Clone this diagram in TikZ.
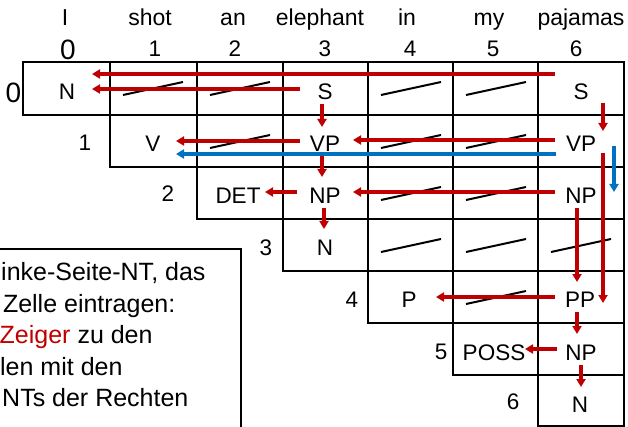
\documentclass[tikz,border=0pt]{standalone}
\usepackage{fontspec}
\setmainfont{Liberation Sans}
\usetikzlibrary{arrows.meta,calc}
\definecolor{ptrred}{RGB}{192,0,0}
\definecolor{ptrblue}{RGB}{0,112,192}
\tikzset{
    cellline/.style={line width=2.6pt},
    nolink/.style={line width=2pt},
    ptr/.style={line width=3.1pt, ptrred, -{Triangle[length=8pt,width=9pt]}},
    bptr/.style={ptr, ptrblue},
    cat/.style={anchor=base, inner sep=0pt, font=\fontsize{22.5}{26}\selectfont},
    hdr/.style={anchor=base, inner sep=0pt, font=\fontsize{23}{27}\selectfont},
    idx/.style={anchor=base, inner sep=0pt, font=\fontsize{22.5}{26}\selectfont},
    bigidx/.style={anchor=base, inner sep=0pt, font=\fontsize{28}{32}\selectfont},
    note/.style={anchor=base west, inner sep=0pt, font=\fontsize{25}{30}\selectfont},
    notebox/.style={line width=2.2pt}
}
\begin{document}
\begin{tikzpicture}[x=1pt,y=-1pt]
    \useasboundingbox (0,0) rectangle (628,427);
    \clip (0,0) rectangle (628,427);
    % chart
    \foreach \xa/\ya/\yb in {23/62/115,110/115/167,197/167/219,283/219/271,368/271/323,453/323/375,538/375/426}{
        \draw[cellline] (\xa,\ya) rectangle (624,\yb);
    }
    \foreach \x/\yb in {110/167,197/219,283/271,368/323,453/375,538/426}{
        \draw[cellline] (\x,62) -- (\x,\yb);
    }
    \foreach \x/\y in {110/62,197/62,368/62,453/62,197/115,368/115,453/115,368/167,453/167,368/219,453/219,538/219,453/271}{
        \draw[nolink] (\x+13,\y+33) -- (\x+73,\y+20);
    }
    % sentence and positions
    \foreach \n/\x/\w in {w0/65/I,w1/150/shot,w2/233/an,w3/320/elephant,w4/407/in,w5/489/my,w6/581/pajamas}{
        \node[hdr] (\n) at (\x,26) {\w};
    }
    \node[bigidx] (p0) at (68,60) {0};
    \foreach \n/\x/\d in {p1/155/1,p2/235/2,p3/325/3,p4/410/4,p5/493/5,p6/576/6}{
        \node[idx] (\n) at (\x,57) {\d};
    }
    \node[bigidx] (r0) at (13.5,103) {0};
    \foreach \n/\x/\y/\d in {r1/85/151/1,r2/168/202/2,r3/266/255/3,r4/352/307/4,r5/441/359/5,r6/513/409/6}{
        \node[idx] (\n) at (\x,\y) {\d};
    }
    % categories
    \foreach \n/\x/\y/\l in {c00/67/100/N,c03/325/100/S,c06/581/100/S,c11/153/152/V,c13/325/152/VP,c16/581/152/VP,c22/238/204/DET,c23/325/204/NP,c26/581/204/NP,c33/325/256/N,c44/409/307/P,c46/580/307/PP,c55/494/360/POSS,c56/581/360/NP,c66/580/412/N}{
        \node[cat] (\n) at (\x,\y) {\l};
    }
    % back pointers
    \foreach \a/\ax/\ay/\b/\bx/\by in {c06/-26/-26/c00/25/-26,c03/-25/-11/c00/25/-11,c03/-3/4/c13/-3/-25,c06/22/3/c16/22/-21,c13/-25/-11/c11/23/-11,c16/-26/-12/c13/28/-12,c13/-3/4/c23/-3/-27,c26/-26/-12/c23/28/-12,c23/-28/-12/c22/27/-12,c23/-1/4/c33/-1/-27,c26/-4/4/c46/-3/-25,c16/22/1/c46/23/-4,c46/-25/-10/c44/27/-10,c46/-3/5/c56/-4/-26,c56/-24/-11/c55/31/-11,c56/0/5/c66/1/-25}{
        \draw[ptr] ($(\a.base)+(\ax,\ay)$) -- ($(\b.base)+(\bx,\by)$);
    }
    \draw[bptr] ($(c16.base)+(-25,2)$) -- ($(c11.base)+(23,2)$);
    \draw[bptr] ($(c16.base)+(33,-6)$) -- ($(c26.base)+(33,-12)$);
    % note
    \draw[notebox] (-10,249) rectangle (241,440);
    \foreach \n/\x/\y/\t in {t1/1/280/{inke-Seite-NT, das},t2/2.8/312/{Zelle eintragen:},t3/-0.5/343/{\textcolor{ptrred}{Zeiger} zu den},t4/0/375/{len mit den},t5/2/406/{NTs der Rechten}}{
        \node[note] (\n) at (\x,\y) {\t};
    }
\end{tikzpicture}
\end{document}
